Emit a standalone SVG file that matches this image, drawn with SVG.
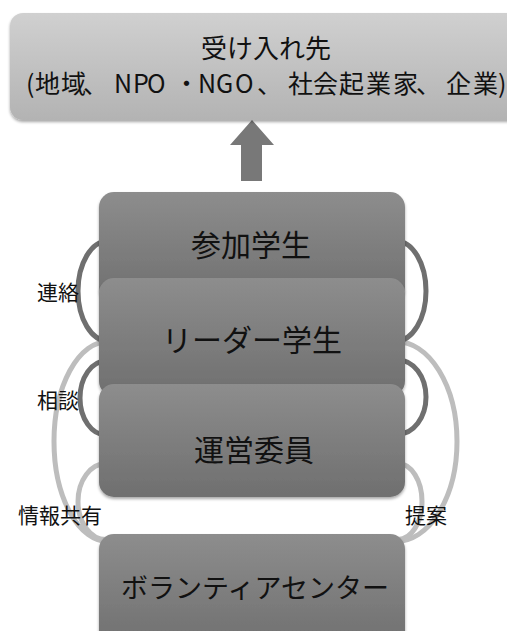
<svg xmlns="http://www.w3.org/2000/svg" width="507" height="631" viewBox="0 0 507 631">
<style>
text{font-family:"Noto Sans CJK JP","Noto Sans CJK SC",sans-serif;fill:#111;}
.lbl{font-size:21px;}
.node{font-size:30px;text-anchor:middle;}
.dark{fill:none;stroke:#6f6f6f;stroke-width:5;}
.light{fill:none;stroke:#bdbdbd;stroke-width:5;}
.box{fill:url(#gBox);filter:url(#sh);}
</style>
<defs>
<linearGradient id="gTop" x1="0" y1="0" x2="0" y2="1">
<stop offset="0" stop-color="#d0d0d0"/>
<stop offset="1" stop-color="#b3b3b3"/>
</linearGradient>
<linearGradient id="gBox" x1="0" y1="0" x2="0" y2="1">
<stop offset="0" stop-color="#8d8d8d"/>
<stop offset="1" stop-color="#6f6f6f"/>
</linearGradient>
<filter id="sh" x="-10%" y="-10%" width="120%" height="130%">
<feGaussianBlur in="SourceAlpha" stdDeviation="1.5"/>
<feOffset dy="2" result="b"/>
<feComponentTransfer><feFuncA type="linear" slope="0.35"/></feComponentTransfer>
<feMerge><feMergeNode/><feMergeNode in="SourceGraphic"/></feMerge>
</filter>
</defs>
<rect width="507" height="631" fill="#ffffff"/>

<g id="connectors">
<path class="light" d="M108,341.5 A54,100 0 0 0 108,541.5"/>
<path class="light" d="M396,341.5 A61,100 0 0 1 396,541.5"/>
<path class="light" d="M106,463.5 A28,38 0 0 0 106,539.5"/>
<path class="light" d="M398,463.5 A24,38 0 0 1 398,539.5"/>
<path class="dark" d="M108,241 A30,50 0 0 0 108,341"/>
<path class="dark" d="M396,241 A30,50 0 0 1 396,341"/>
<path class="dark" d="M106,361 A26,37 0 0 0 106,435"/>
<path class="dark" d="M398,360 A28,37 0 0 1 398,434"/>
<path id="arrow" d="M252,120 L274,145 L262,145 L262,181 L241,181 L241,145 L230,145 Z" fill="#787878"/>
<text class="lbl" x="37" y="300">連絡</text>
<text class="lbl" x="37" y="408">相談</text>
<text class="lbl" x="18" y="523">情報共有</text>
<text class="lbl" x="405" y="523">提案</text>
</g>

<g id="node-receivers">
<rect x="10" y="13" width="520" height="107" rx="13" fill="url(#gTop)" filter="url(#sh)"/>
<text x="266" y="58" font-size="26" text-anchor="middle">受け入れ先</text>
<text y="93" font-size="25" x="26 35 61 83 114 133 147 174 198 216 235 257 288 313 339 366 393 416 446 473 498">(地域、NPO・NGO、社会起業家、企業)</text>
</g>

<g id="node-participants">
<rect class="box" x="99" y="192" width="306" height="110" rx="15"/>
<text class="node" x="251" y="256">参加学生</text>
</g>

<g id="node-leaders">
<rect class="box" x="99" y="278" width="306" height="118" rx="15"/>
<text class="node" x="252" y="351">リーダー学生</text>
</g>

<g id="node-committee">
<rect class="box" x="99" y="384" width="306" height="113" rx="15"/>
<text class="node" x="254" y="461">運営委員</text>
</g>

<g id="node-center">
<rect class="box" x="99" y="534" width="306" height="115" rx="15"/>
<text class="node" x="255" y="598" style="font-size:27px">ボランティアセンター</text>
</g>
</svg>
